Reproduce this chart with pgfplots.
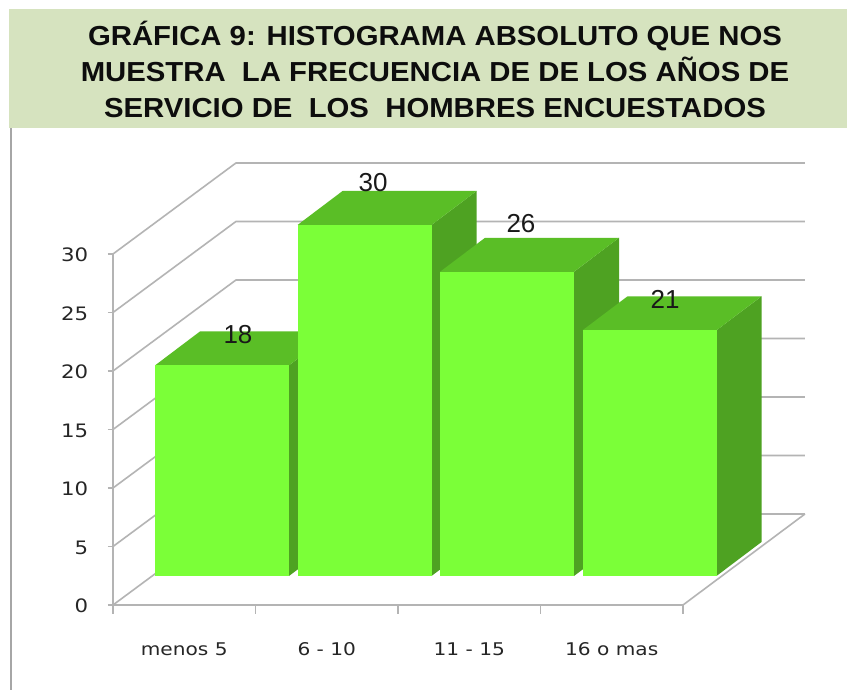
\documentclass[border=0pt]{standalone}
\usepackage{fontspec}
\usepackage{pgfplots}
\pgfplotsset{compat=1.18}
\setmainfont[FakeStretch=1.066]{Liberation Sans}
\newfontfamily\valuefont{Liberation Sans}
\newfontfamily\axisfont[FakeStretch=1.15]{DejaVu Sans}
\definecolor{band}{HTML}{D6E3BF}
\definecolor{front}{HTML}{7BFF38}
\definecolor{topf}{HTML}{5ABE26}
\definecolor{sidef}{HTML}{4EA222}
\definecolor{wall}{HTML}{B4B4B4}
\pgfplotsset{base/.style={scale only axis,width=570pt,height=351pt,ymin=0,ymax=30,clip=false}}
\begin{document}
\begin{tikzpicture}[x=1pt,y=1pt]
\path[use as bounding box] (0,0) rectangle (847,690);
\fill[white] (0,0) rectangle (847,690);
\fill[band] (9,562) rectangle (847,681);
\draw[gray!70,line width=1.2pt] (11,0) -- (11,562);
\node[font=\fontsize{27.5}{36}\selectfont\bfseries,align=center,text=black!95] at (435,620.5)
 {GRÁFICA 9: HISTOGRAMA ABSOLUTO QUE NOS\\MUESTRA\ \ LA FRECUENCIA DE DE LOS AÑOS DE\\SERVICIO DE\ \ LOS\ \ HOMBRES ENCUESTADOS};
% frame: value axis, category axis, side wall, back wall
\begin{axis}[base,at={(113pt,85pt)},anchor=south west,xmin=0,xmax=4,
  axis x line=bottom,axis y line=left,axis line style={wall,line width=1.6pt,-},
  tick style={wall,line width=1.4pt},tick align=outside,
  ytick={0,5,...,30},xtick={0,1,2,3,4},xticklabels={},
  xtick style={/pgfplots/major tick length=9pt},ytick style={/pgfplots/major tick length=5pt},
  extra x ticks={0.5,1.5,2.5,3.5},
  extra x tick labels={menos 5,6 - 10,11 - 15,16 o mas},
  extra x tick style={xtick style={draw=none},xticklabel style={yshift=-30pt}},
  xticklabel style={font=\axisfont\fontsize{17.5}{18}\selectfont,text=black!85},
  yticklabel style={font=\axisfont\fontsize{18.5}{20}\selectfont,text=black!85,xshift=-17pt,yshift=-1pt},
  /pgf/number format/assume math mode=true]
\addplot[wall,line width=1.6pt] coordinates {(0,0) (0.863,7.78) (4.856,7.78)};
\addplot[wall,line width=1.6pt] coordinates {(0,5) (0.863,12.78) (4.856,12.78)};
\addplot[wall,line width=1.6pt] coordinates {(0,10) (0.863,17.78) (4.856,17.78)};
\addplot[wall,line width=1.6pt] coordinates {(0,15) (0.863,22.78) (4.856,22.78)};
\addplot[wall,line width=1.6pt] coordinates {(0,20) (0.863,27.78) (4.856,27.78)};
\addplot[wall,line width=1.6pt] coordinates {(0,25) (0.863,32.78) (4.856,32.78)};
\addplot[wall,line width=1.6pt] coordinates {(0,30) (0.863,37.78) (4.856,37.78)};
\addplot[wall,line width=1.6pt] coordinates {(4,0) (4.856,7.78)};
\end{axis}
% bars: categories at 0,1,2,3, on the floor of the box
\begin{axis}[base,at={(113pt,114pt)},anchor=south west,xmin=-0.765,xmax=3.235,hide axis]
% menos 5
\addplot[fill=sidef,draw=none] coordinates {(0.47,0) (0.786,2.906) (0.786,20.906) (0.47,18)};
\addplot[fill=topf,draw=none] coordinates {(-0.47,18) (-0.154,20.906) (0.786,20.906) (0.47,18)};
\addplot[ybar,bar width=134pt,bar shift=0pt,fill=front,draw=none] coordinates {(0,18)};
% 6 - 10
\addplot[fill=sidef,draw=none] coordinates {(1.47,0) (1.786,2.906) (1.786,32.906) (1.47,30)};
\addplot[fill=topf,draw=none] coordinates {(0.53,30) (0.846,32.906) (1.786,32.906) (1.47,30)};
\addplot[ybar,bar width=134pt,bar shift=0pt,fill=front,draw=none] coordinates {(1,30)};
% 11 - 15
\addplot[fill=sidef,draw=none] coordinates {(2.47,0) (2.786,2.906) (2.786,28.906) (2.47,26)};
\addplot[fill=topf,draw=none] coordinates {(1.53,26) (1.846,28.906) (2.786,28.906) (2.47,26)};
\addplot[ybar,bar width=134pt,bar shift=0pt,fill=front,draw=none] coordinates {(2,26)};
% 16 o mas
\addplot[fill=sidef,draw=none] coordinates {(3.47,0) (3.786,2.906) (3.786,23.906) (3.47,21)};
\addplot[fill=topf,draw=none] coordinates {(2.53,21) (2.846,23.906) (3.786,23.906) (3.47,21)};
\addplot[ybar,bar width=134pt,bar shift=0pt,fill=front,draw=none] coordinates {(3,21)};
% value labels
\addplot[draw=none,mark=none,point meta=explicit,
  nodes near coords={\pgfmathprintnumber{\pgfplotspointmeta}},
  every node near coord/.append style={anchor=center,inner sep=0pt,text=black!90,font=\valuefont\fontsize{26}{28}\selectfont,/pgf/number format/assume math mode=true}]
  table[x=x,y=y,meta=v] {
x y v
0.112 20.6 18
1.06 33.67 30
2.098 30.09 26
3.109 23.68 21
};
\end{axis}
\end{tikzpicture}
\end{document}
